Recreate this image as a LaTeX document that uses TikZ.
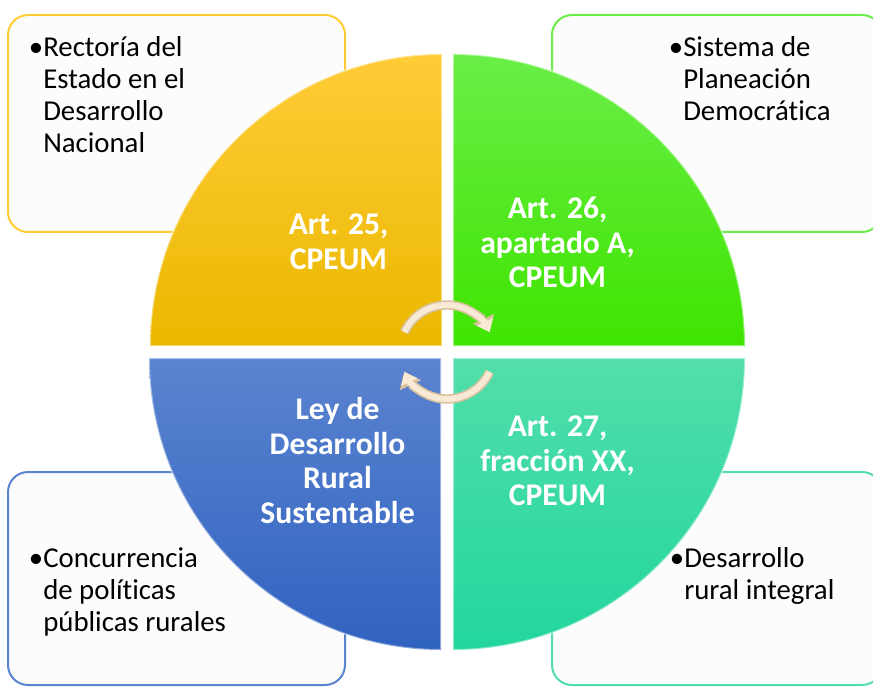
\documentclass[tikz,border=0pt]{standalone}
\usepackage{fontspec}
\setmainfont{Carlito}[Ligatures=CommonOff]
\usetikzlibrary{arrows.meta}

\definecolor{oro}{HTML}{EBB800}
\definecolor{oroclaro}{HTML}{FFCC38}
\definecolor{verde}{HTML}{3FE400}
\definecolor{verdeclaro}{HTML}{6AEE48}
\definecolor{azul}{HTML}{3062C0}
\definecolor{azulclaro}{HTML}{5B84D0}
\definecolor{menta}{HTML}{22D69E}
\definecolor{mentaclaro}{HTML}{52DEAA}
\definecolor{crema}{HTML}{F8EAD4}
\definecolor{tostado}{HTML}{D9C29E}
\definecolor{papel}{HTML}{FCFCFC}

\begin{document}
\begin{tikzpicture}[x=0.75pt, y=0.75pt,
  every node/.style={inner sep=0pt},
  box/.style={draw, line width=1.5pt, rounded corners=15pt, fill=papel},
  boxtext/.style={anchor=base west, align=left, font=\fontsize{21.6}{24}\selectfont},
  quadtext/.style={align=center, text=white, font=\bfseries\fontsize{23.7}{25.9}\selectfont},
  quad/.style={draw=white, draw opacity=0.45, line width=1.5pt},
  giroborde/.style={line width=7pt, draw=tostado, -{Triangle[length=11pt, width=17pt]}},
  giro/.style={line width=4.5pt, draw=crema, -{Triangle[length=8.5pt, width=13pt]}}
]
\useasboundingbox (0,0) rectangle (873,686);
\clip (0,0) rectangle (873,686);

% Boxes behind the circle
\draw[box, draw=oroclaro] (8,454) rectangle (345,671);
\draw[box, draw=verdeclaro] (552,454) rectangle (882,671);
\draw[box, draw=azulclaro] (8,1) rectangle (345,214);
\draw[box, draw=mentaclaro] (552,1) rectangle (882,214);

% Quadrants
\shade[quad, top color=oroclaro, bottom color=oro]
  (442,340) -- (150,340) arc[start angle=180, end angle=90, radius=292] -- cycle;
\shade[quad, top color=verdeclaro, bottom color=verde]
  (453,340) -- (453,632) arc[start angle=90, end angle=0, radius=292] -- cycle;
\shade[quad, top color=azulclaro, bottom color=azul]
  (441,328) -- (149,328) arc[start angle=180, end angle=270, radius=292] -- cycle;
\shade[quad, top color=mentaclaro, bottom color=menta]
  (453,328) -- (745,328) arc[start angle=0, end angle=-90, radius=292] -- cycle;

% Quadrant labels
\node[quadtext] (art25) at (338.5,444.5) {Art. 25,\\CPEUM};
\node[quadtext] (art26) at (557.5,443.5) {Art. 26,\\apartado A,\\CPEUM};
\node[quadtext] (ley) at (337.5,225.5) {Ley de\\Desarrollo\\Rural\\Sustentable};
\node[quadtext] (art27) at (557.5,225) {Art. 27,\\fracción XX,\\CPEUM};

% Box texts (anchored on the last line)
\node[boxtext] (rectoria) at (43,533) {\llap{•}Rectoría del\\Estado en el\\Desarrollo\\Nacional};
\node[boxtext] (sistema) at (683,565) {\llap{•}Sistema de\\Planeación\\Democrática};
\node[boxtext] (concurrencia) at (43,55) {\llap{•}Concurrencia\\de políticas\\públicas rurales};
\node[boxtext] (desarrollo) at (684,87) {\llap{•}Desarrollo\\rural integral};

% Cycle arrows
\coordinate (centro) at (447,334);
\draw[giroborde] (centro) ++(155:47) arc[start angle=155, end angle=25, radius=47];
\draw[giro] (centro) ++(155:47) arc[start angle=155, end angle=25, radius=47];
\draw[giroborde] (centro) ++(-25:47) arc[start angle=-25, end angle=-155, radius=47];
\draw[giro] (centro) ++(-25:47) arc[start angle=-25, end angle=-155, radius=47];

\end{tikzpicture}
\end{document}
